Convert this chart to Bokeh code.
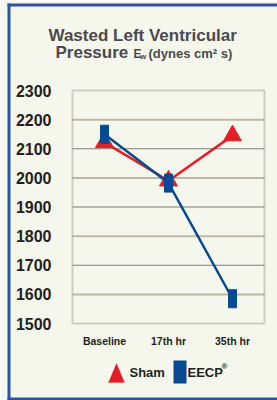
from bokeh.plotting import figure
from bokeh.models import (Range1d, FixedTicker, Label, LinearAxis,
                          BoxAnnotation, PolyAnnotation)
from bokeh.embed import file_html
from bokeh.resources import INLINE

# ---- data ----
categories = ["Baseline", "17th hr", "35th hr"]
sham = [2122, 1990, 2145]
eecp = [2150, 1982, 1585]
y_ticks = [1500, 1600, 1700, 1800, 1900, 2000, 2100, 2200, 2300]

BG = "#f6f7ec"
RED = "#e31e26"
BLUE = "#074a8f"
BORDER = "#2f52a3"
TXT = "#231f20"
TITLE = "#4a4a4c"
FONT = "Liberation Sans"

W, H = 277, 400
PL, PR, PT, PB = 72, 264, 90, 323
ymin, ymax = y_ticks[0], y_ticks[-1]
xmin, xmax = -0.5, len(categories) - 0.5
kx = (PR - PL) / (xmax - xmin)
ky = (PB - PT) / (ymax - ymin)

p = figure(width=W, height=H, title=None,
           x_range=Range1d(xmin - PL / kx, xmax + (W - PR) / kx),
           y_range=Range1d(ymin - (H - PB) / ky, ymax + PT / ky),
           output_backend="svg", toolbar_location=None,
           x_axis_location=None, y_axis_location=None,
           min_border=0)
p.background_fill_color = BG
p.border_fill_color = BG
p.outline_line_color = None
p.xgrid.visible = False
p.ygrid.visible = False

yax = LinearAxis(fixed_location=xmin, bounds=(ymin, ymax),
                 ticker=FixedTicker(ticks=y_ticks))
xs = list(range(len(categories)))
xax = LinearAxis(fixed_location=ymin, bounds=(xmin, xmax),
                 ticker=FixedTicker(ticks=xs),
                 major_label_overrides={i: c for i, c in enumerate(categories)})
for ax in (xax, yax):
    ax.axis_line_color = None
    ax.major_tick_line_color = None
    ax.minor_tick_line_color = None
    ax.major_label_text_font = FONT
    ax.major_label_text_font_style = "bold"
    ax.major_label_text_color = TXT
yax.major_label_text_font_size = "16px"
yax.major_label_standoff = 15
xax.major_label_text_font_size = "10.5px"
xax.major_label_standoff = 5
p.add_layout(yax, "left")
p.add_layout(xax, "below")

inner = y_ticks[1:-1]
light = [t for i, t in enumerate(inner) if i % 2 == 0]
dark = [t for i, t in enumerate(inner) if i % 2 == 1]
p.segment(x0=[xmin] * len(light), x1=[xmax] * len(light), y0=light, y1=light,
          line_color="#bdb8a6", line_width=2)
p.segment(x0=[xmin] * len(dark), x1=[xmax] * len(dark), y0=dark, y1=dark,
          line_color="#7d7d7b", line_width=1.2)

p.line(xs, sham, line_color=RED, line_width=2.5)
p.scatter(xs, sham, marker="triangle", size=18, fill_color=RED,
          line_color=RED)
p.line(xs, eecp, line_color=BLUE, line_width=2.5)
p.rect(xs, eecp, width=8, height=18, width_units="screen",
       height_units="screen", fill_color=BLUE, line_color=BLUE)

p.add_layout(BoxAnnotation(left=xmin, right=xmax, bottom=ymin, top=ymax,
                           fill_alpha=0, line_color="#6b6b6b", line_width=2))

def sy(y):
    return H - y

def lab(text, x, y, size, align="left", color=TITLE):
    p.add_layout(Label(x=x, y=sy(y), x_units="screen", y_units="screen",
                       text=text, text_font=FONT, text_font_style="bold",
                       text_font_size=size, text_color=color,
                       text_align=align, text_baseline="alphabetic"))

# title
lab("Wasted Left Ventricular", 48, 35, "17px")
lab("Pressure", 55, 52, "17px")
lab("E", 133, 53, "12px")
lab("w", 139.5, 56, "8px")
lab("(dynes cm\u00b2 s)", 148, 52.5, "13px")

# legend
p.add_layout(PolyAnnotation(xs=[108, 124, 116],
                            ys=[sy(382), sy(382), sy(363)],
                            xs_units="screen", ys_units="screen",
                            fill_color=RED, fill_alpha=1, line_color=RED))
lab("Sham", 129, 371.5, "13px", color=TXT)
p.add_layout(BoxAnnotation(left=173, right=186, top=sy(360), bottom=sy(383),
                           left_units="screen", right_units="screen",
                           top_units="screen", bottom_units="screen",
                           fill_color=BLUE, fill_alpha=1, line_color=None))
lab("EECP", 187, 371.5, "13px", color=TXT)
lab("\u00ae", 221, 366, "8px", color=TXT)

# outer border
def bar(l, r, t, b):
    p.add_layout(BoxAnnotation(left=l, right=r, top=sy(t), bottom=sy(b),
                               left_units="screen", right_units="screen",
                               top_units="screen", bottom_units="screen",
                               fill_color=BORDER, fill_alpha=1,
                               line_color=None))
bar(7, 10, 3, 400)
bar(7, W, 3, 6)
bar(7, W, 397, 400)

open("out.html", "w").write(file_html(p, INLINE))
